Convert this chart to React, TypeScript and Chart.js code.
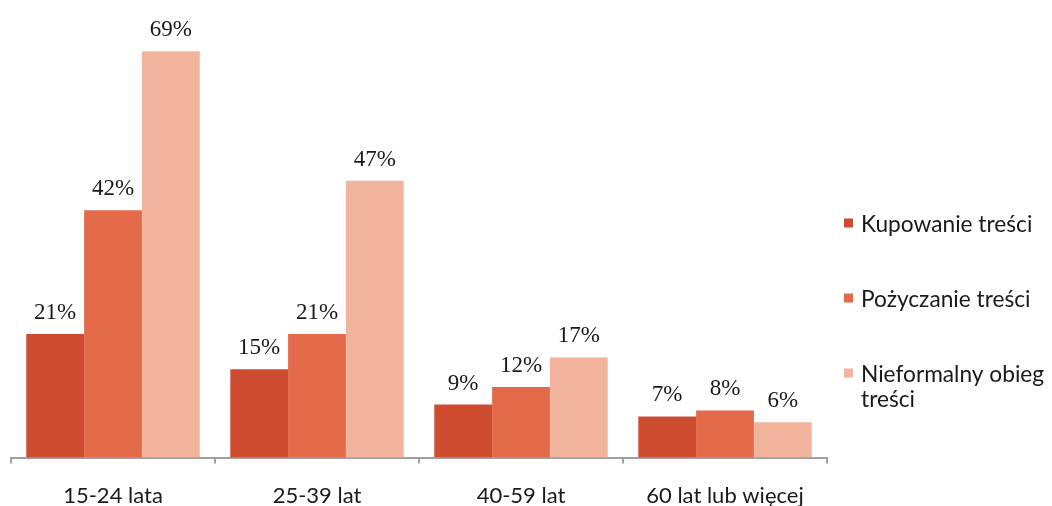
import React, { useEffect, useRef } from "react";
import { Chart, registerables } from "chart.js";

Chart.register(...registerables);

const categories = ["15-24 lata", "25-39 lat", "40-59 lat", "60 lat lub więcej"];
const kupowanie = [21, 15, 9, 7];
const pozyczanie = [42, 21, 12, 8];
const nieformalny = [69, 47, 17, 6];
const seriesNames: (string | string[])[] = [
  "Kupowanie treści",
  "Pożyczanie treści",
  ["Nieformalny obieg", "treści"],
];
const seriesColors = ["#CD4B2F", "#E36B4A", "#F2B49C"];

const LABEL_FONT = "Lato, 'Open Sans', sans-serif";

export default function App() {
  const ref = useRef<HTMLCanvasElement | null>(null);
  useEffect(() => {
    document.body.style.margin = "0";
    const canvas = ref.current;
    if (!canvas) return;

    const valueLabels = {
      id: "valueLabels",
      afterDatasetsDraw(chart: any) {
        const ctx = chart.ctx;
        ctx.save();
        ctx.font = "23px 'Liberation Serif', serif";
        ctx.fillStyle = "#1a1a1a";
        ctx.textAlign = "center";
        ctx.textBaseline = "alphabetic";
        chart.data.datasets.forEach((ds: any, di: number) => {
          const meta = chart.getDatasetMeta(di);
          meta.data.forEach((bar: any, i: number) => {
            ctx.fillText(ds.data[i] + "%", bar.x, bar.y - 15);
          });
        });
        ctx.restore();
      },
    };

    const customLegend = {
      id: "customLegend",
      afterDraw(chart: any) {
        const ctx = chart.ctx;
        ctx.save();
        ctx.font = "22.7px " + LABEL_FONT;
        ctx.textAlign = "left";
        ctx.textBaseline = "alphabetic";
        chart.data.datasets.forEach((ds: any, di: number) => {
          const cy = 223 + 75 * di;
          ctx.fillStyle = ds.backgroundColor;
          ctx.fillRect(844, cy - 4.5, 9, 9);
          ctx.fillStyle = "#1a1a1a";
          const lines = Array.isArray(seriesNames[di]) ? (seriesNames[di] as string[]) : [seriesNames[di] as string];
          lines.forEach((ln, li) => {
            ctx.fillText(ln, 861, cy + 9 + li * 25);
          });
        });
        ctx.restore();
      },
    };

    const chart = new Chart(canvas, {
      type: "bar",
      data: {
        labels: categories,
        datasets: [
          { label: "Kupowanie treści", data: kupowanie, backgroundColor: seriesColors[0] },
          { label: "Pożyczanie treści", data: pozyczanie, backgroundColor: seriesColors[1] },
          { label: "Nieformalny obieg treści", data: nieformalny, backgroundColor: seriesColors[2] },
        ],
      },
      options: {
        animation: false,
        responsive: false,
        maintainAspectRatio: false,
        layout: { padding: { left: 11, right: 225, top: 13, bottom: -22 } },
        datasets: {
          bar: { categoryPercentage: 0.85, barPercentage: 1.0, borderWidth: 0 },
        },
        plugins: {
          legend: { display: false },
          tooltip: { enabled: false },
        },
        scales: {
          x: {
            offset: true,
            grid: {
              offset: true,
              drawOnChartArea: false,
              drawTicks: true,
              tickLength: 6,
              color: "#A0A0A0",
              lineWidth: 2,
            },
            border: { display: true, color: "#A0A0A0", width: 2 },
            ticks: {
              padding: 19,
              color: "#1a1a1a",
              font: { family: LABEL_FONT, size: 22 },
            },
          },
          y: {
            display: false,
            min: 0,
            max: 75.5,
          },
        },
      },
      plugins: [valueLabels, customLegend],
    });
    return () => chart.destroy();
  }, []);

  return (
    <div style={{ width: 1052, height: 506, background: "#fff" }}>
      <canvas ref={ref} width={1052} height={506} style={{ display: "block" }} />
    </div>
  );
}
